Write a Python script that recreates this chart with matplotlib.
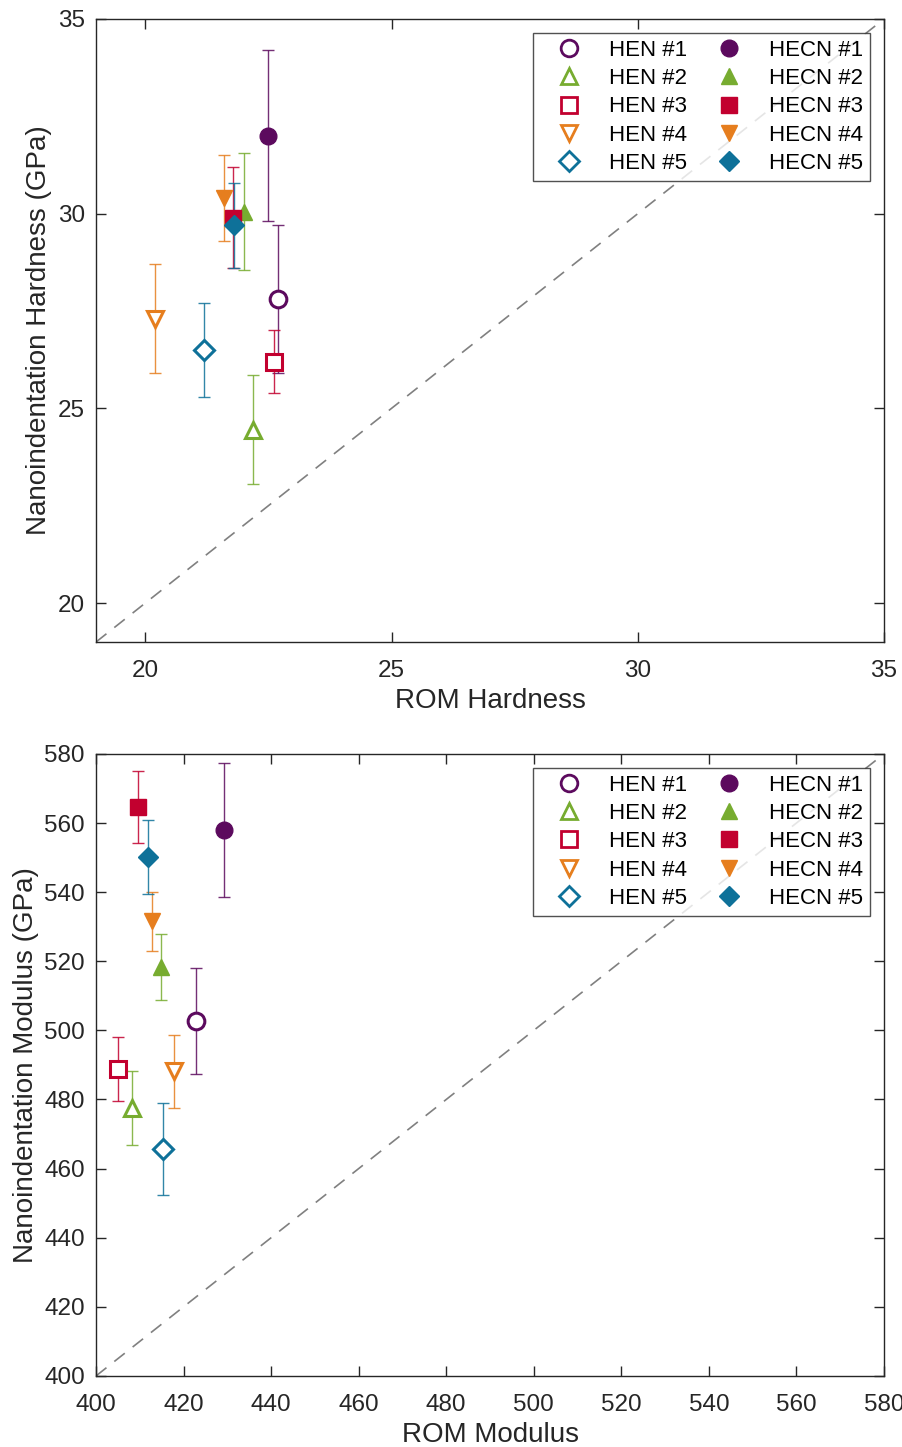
import matplotlib
matplotlib.use("Agg")
import matplotlib.pyplot as plt
from matplotlib.lines import Line2D

plt.rcParams["font.family"] = ["Liberation Sans", "DejaVu Sans"]

# sample names and colours
names = ["#1", "#2", "#3", "#4", "#5"]
colors = ["#5C0A5E", "#77AC30", "#C2002F", "#E67E1E", "#0E7199"]
markers = ["o", "^", "s", "v", "D"]

# hardness (GPa): ROM estimate, measured value, error
hen_rom_h = [22.70, 22.19, 22.61, 20.19, 21.19]
hen_h = [27.8, 24.45, 26.2, 27.3, 26.5]
hen_h_err = [1.9, 1.4, 0.8, 1.4, 1.2]
hecn_rom_h = [22.50, 22.01, 21.79, 21.59, 21.80]
hecn_h = [32.0, 30.05, 29.9, 30.4, 29.7]
hecn_h_err = [2.2, 1.5, 1.3, 1.1, 1.1]

# modulus (GPa)
hen_rom_m = [422.9, 408.3, 405.1, 417.9, 415.4]
hen_m = [502.7, 477.5, 488.9, 488.2, 465.7]
hen_m_err = [15.4, 10.6, 9.2, 10.6, 13.4]
hecn_rom_m = [429.3, 414.8, 409.5, 412.9, 411.9]
hecn_m = [558.0, 518.4, 564.6, 531.5, 550.2]
hecn_m_err = [19.4, 9.5, 10.4, 8.4, 10.8]


def draw_panel(ax, hen_x, hen_y, hen_e, hecn_x, hecn_y, hecn_e, lim, ticks, xlabel, ylabel):
    ax.plot(lim, lim, ls=(0, (8, 6)), color="#808080", lw=1.2, zorder=1)
    for i in range(5):
        ax.errorbar(hen_x[i], hen_y[i], yerr=hen_e[i], fmt="none", ecolor=colors[i],
                    elinewidth=1.0, capsize=4, capthick=1.0, alpha=0.85, zorder=2)
        ax.errorbar(hecn_x[i], hecn_y[i], yerr=hecn_e[i], fmt="none", ecolor=colors[i],
                    elinewidth=1.0, capsize=4, capthick=1.0, alpha=0.85, zorder=2)
    for i in range(5):
        ms = 10 if markers[i] == "D" else 12
        ax.plot(hen_x[i], hen_y[i], markers[i], ms=ms, mfc="white", mec=colors[i],
                mew=2.2, zorder=3)
        ax.plot(hecn_x[i], hecn_y[i], markers[i], ms=ms, mfc=colors[i], mec=colors[i],
                mew=1, zorder=3)

    ax.set_xlim(lim)
    ax.set_ylim(lim)
    ax.set_xticks(ticks)
    ax.set_yticks(ticks)
    ax.tick_params(direction="in", length=7, width=1, top=True, right=True,
                   labelsize=17.5, colors="#262626", pad=8)
    ax.tick_params(axis="x", pad=13)
    for s in ax.spines.values():
        s.set_color("#262626")
        s.set_linewidth(1.0)
    ax.set_xlabel(xlabel, fontsize=20, color="#262626", labelpad=4)
    ax.set_ylabel(ylabel, fontsize=20, color="#262626", labelpad=4)

    handles = []
    labels = []
    for i in range(5):
        ms = 10 if markers[i] == "D" else 12
        handles.append(Line2D([], [], ls="none", marker=markers[i], ms=ms, mfc="white",
                              mec=colors[i], mew=2.0))
        labels.append("HEN " + names[i])
    for i in range(5):
        ms = 10 if markers[i] == "D" else 12
        handles.append(Line2D([], [], ls="none", marker=markers[i], ms=ms, mfc=colors[i],
                              mec=colors[i]))
        labels.append("HECN " + names[i])
    leg = ax.legend(handles, labels, ncol=2, loc="upper right", bbox_to_anchor=(0.9822, 0.9775),
                    borderaxespad=0, fontsize=16, frameon=True, fancybox=False,
                    edgecolor="#262626", handletextpad=0.5, columnspacing=0.6,
                    labelspacing=0.33, borderpad=0.3, handlelength=2.6)
    leg.get_frame().set_linewidth(1.0)


fig = plt.figure(figsize=(9.03, 14.47), dpi=100)
ax1 = fig.add_axes([0.1063, 0.5563, 0.8727, 0.4306])
ax2 = fig.add_axes([0.1063, 0.0491, 0.8727, 0.4299])

draw_panel(ax1, hen_rom_h, hen_h, hen_h_err, hecn_rom_h, hecn_h, hecn_h_err,
           [19, 35], [20, 25, 30, 35], "ROM Hardness", "Nanoindentation Hardness (GPa)")
draw_panel(ax2, hen_rom_m, hen_m, hen_m_err, hecn_rom_m, hecn_m, hecn_m_err,
           [400, 580], list(range(400, 581, 20)), "ROM Modulus", "Nanoindentation Modulus (GPa)")

fig.savefig("out.png", dpi=100)
